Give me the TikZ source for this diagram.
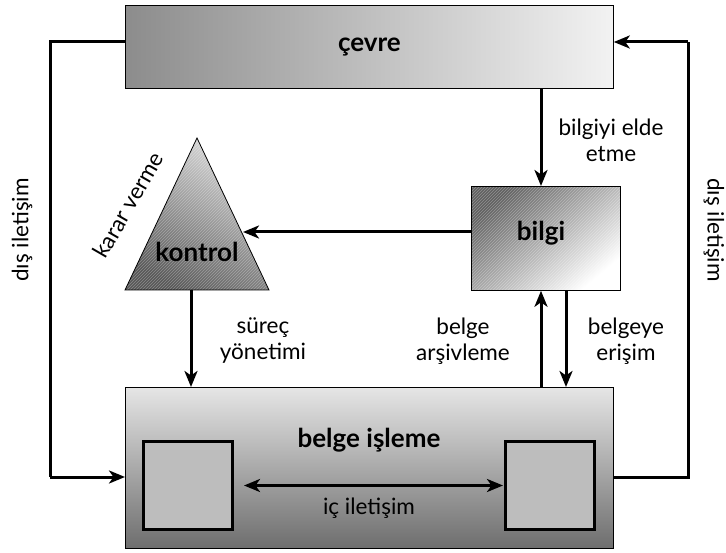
\documentclass[tikz,border=0pt]{standalone}
\usepackage{fontspec}
\setmainfont{Lato}
\usetikzlibrary{arrows.meta}
\begin{document}
\begin{tikzpicture}[x=1pt,y=-1pt,
  conn/.style={line width=3pt,-{Stealth[length=16pt,width=13pt,inset=4.5pt]}},
  line/.style={line width=3pt},
  lbl/.style={font=\fontsize{22.5}{26}\selectfont,align=center,inner sep=0},
  title/.style={font=\fontsize{26}{28}\selectfont\bfseries,inner sep=0},
  sq/.style={draw,line width=3pt,fill=black!26,minimum width=89pt,minimum height=88pt,inner sep=0},
  hatchline/.style={white,opacity=0.3,line width=0.6pt}
]
\useasboundingbox (0,0) rectangle (726,553);
% boxes
\node[draw,line width=0.8pt,left color=black!45,right color=black!5,minimum width=488pt,minimum height=83pt,inner sep=0,anchor=north west] (cevre) at (125,5) {};
\node[title] at (cevre.center) {çevre};
\node[draw,line width=0.8pt,top color=black!10,bottom color=black!57,minimum width=488pt,minimum height=161pt,inner sep=0,anchor=north west] (isleme) at (125,387) {};
\node[title] (islemelbl) at (369,440) {belge işleme};
\node[line width=0.8pt,top color=black!62,middle color=black!25,bottom color=white,shading angle=40,minimum width=149pt,minimum height=104pt,inner sep=0,anchor=north west] (bilgi) at (471,186) {};
\begin{scope}
  \clip (bilgi.south west) rectangle (bilgi.north east);
  \foreach \k in {360,363,...,630} \draw[hatchline] (\k,300) -- ++(130,-130);
\end{scope}
\draw[line width=0.8pt] (bilgi.south west) rectangle (bilgi.north east);
\node[title] at (541,233) {bilgi};
% triangle
\coordinate (tA) at (197,138);
\coordinate (tL) at (125,290);
\coordinate (tR) at (269,290);
\coordinate (tE) at (243,232);
\coordinate (tB) at (191,290);
\shade[top color=black!14,bottom color=black!65,shading angle=-30] (tA) -- (tR) -- (tL) -- cycle;
\begin{scope}
  \clip (tA) -- (tR) -- (tL) -- cycle;
  \foreach \k in {-40,-37,...,272} \draw[hatchline] (\k,295) -- ++(165,-165);
\end{scope}
\draw[line width=0.8pt] (tA) -- (tR) -- (tL) -- cycle;
\node[title] (kontrol) at (197,252) {kontrol};
\node[lbl,rotate=60] (karar) at (128,205) {karar verme};
% inner squares
\node[sq,anchor=north west] (sqL) at (142,440) {};
\node[sq,anchor=north west] (sqR) at (504,440) {};
\draw[line width=3pt,{Stealth[length=16pt,width=13pt,inset=4.5pt]}-{Stealth[length=16pt,width=13pt,inset=4.5pt]}] ([xshift=10pt]sqL.east) -- ([xshift=-1pt]sqR.east -| sqR.west);
\node[lbl] (ic) at (369,508) {iç iletişim};
% vertical connectors
\draw[conn] (cevre.south -| 541,0) -- (bilgi.north -| 541,0);
\node[lbl] (l1) at (611,140) {bilgiyi elde\\etme};
\draw[conn] (bilgi.west |- tE) -- (tE);
\draw[conn] (tB) -- (isleme.north -| tB);
\node[lbl] (l2) at (263,341) {süreç\\yönetimi};
\draw[conn] (isleme.north -| 541,0) -- (bilgi.south -| 541,0);
\draw[conn] (bilgi.south -| 566,0) -- (isleme.north -| 566,0);
\node[lbl] (l3) at (463,341) {belge\\arşivleme};
\node[lbl] (l4) at (626,341) {belgeye\\erişim};
% outer loops
\coordinate (c1) at (50,42);
\coordinate (c2) at (50,477);
\coordinate (c3) at (688,477);
\coordinate (c4) at (688,42);
\draw[line] (cevre.west |- c1) -- (c1) -- (c2);
\draw[conn] (c2) -- (isleme.west |- c2);
\draw[line] (isleme.east |- c3) -- (c3) -- (c4);
\draw[conn] (c4) -- (cevre.east |- c4);
\node[lbl,rotate=90] (dl) at (22,230) {dış iletişim};
\node[lbl,rotate=-90] (dr) at (714,230) {dış iletişim};
\end{tikzpicture}
\end{document}
